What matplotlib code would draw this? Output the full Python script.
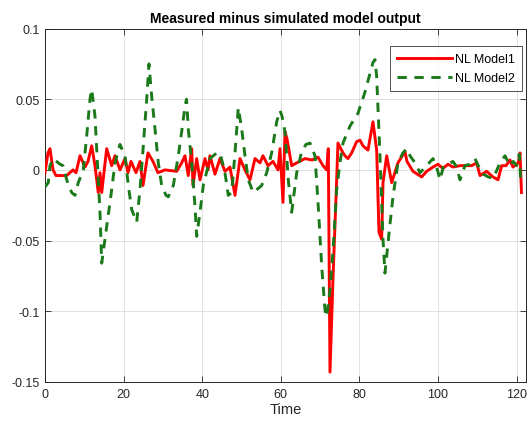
import matplotlib
matplotlib.use("Agg")
import matplotlib.pyplot as plt

plt.rcParams['font.family'] = ['Liberation Sans', 'DejaVu Sans']
plt.rcParams['axes.unicode_minus'] = False

title = "Measured minus simulated model output"
xlabel = "Time"
labels = ["NL Model1", "NL Model2"]
xticks = [0, 20, 40, 60, 80, 100, 120]
yticks = [-0.15, -0.1, -0.05, 0, 0.05, 0.1]
ytick_labels = ["-0.15", "-0.1", "-0.05", "0", "0.05", "0.1"]

t_model1 = [0, 0.76, 1.27, 2.04, 2.8, 3.82, 5.52, 7.12, 7.89, 8.91, 10.18, 10.94, 11.88,
            12.72, 13.56, 13.99, 14.43, 15.7, 16.97, 17.81, 19.08, 20.36, 21.12, 21.88,
            23.16, 24.17, 24.94, 26.21, 27.48, 28.75, 30.53, 33.51, 34.78, 35.62, 36.46,
            37.33, 37.66, 38.6, 39.44, 40.71, 41.48, 41.98, 43.26, 44.53, 45.8, 47.07,
            48.35, 49.62, 50.89, 52.16, 53.44, 54.71, 55.47, 56.74, 58.02, 59.29, 59.8,
            60.56, 61.07, 61.58, 62.77, 64.05, 66.16, 67.94, 69.47, 70.74, 71.68, 72.09,
            72.52, 73.28, 74.22, 74.55, 75.83, 76.34, 77.1, 78.04, 79.31, 80.15, 80.92,
            82.19, 83.46, 84.4, 84.99, 85.67, 86.01, 86.95, 88.22, 89.82, 91.6, 92.11,
            93.64, 95.85, 97.12, 98.73, 100, 101.27, 102.54, 103.82, 105.6, 107.12,
            108.58, 109.85, 110.69, 112.39, 114, 115.27, 116.21, 117.3, 118.32, 119.08,
            120.43, 120.87, 121.25]
y_model1 = [-0.002, 0.012, 0.015, 0.0, -0.004, -0.004, -0.004, 0.0, -0.002, 0.01, 0.002,
            0.006, 0.017, 0.003, -0.016, -0.002, -0.016, 0.015, 0.003, 0.01, 0.0, 0.008,
            -0.002, 0.006, -0.002, 0.006, -0.011, 0.012, 0.006, -0.002, 0.0, -0.001, 0.005,
            0.01, -0.004, 0.015, -0.011, 0.008, -0.007, 0.008, 0.0, 0.01, -0.003, 0.008,
            -0.001, 0.002, -0.018, 0.008, 0.0, -0.007, 0.008, 0.005, 0.01, 0.003, 0.006,
            0.0, 0.015, -0.023, 0.027, 0.022, 0.003, 0.005, 0.008, 0.007, 0.009, 0.003,
            0.0, 0.015, -0.143, -0.077, -0.007, 0.019, 0.012, 0.01, 0.008, 0.012, 0.02,
            0.021, 0.017, 0.014, 0.034, 0.014, -0.044, -0.049, -0.009, 0.01, -0.009, 0.005,
            0.013, 0.006, -0.001, -0.005, -0.001, 0.002, 0.004, 0.001, 0.004, 0.002, 0.003,
            0.003, 0.003, 0.005, -0.004, -0.001, -0.005, -0.007, 0.003, 0.003, 0.007,
            0.002, 0.005, 0.012, -0.016]

t_model2 = [0, 0.84, 1.27, 2.11, 3.82, 4.58, 5.52, 6.79, 7.63, 8.47, 9.75, 10.61, 11.45,
            11.88, 12.72, 13.56, 13.99, 14.43, 15.7, 16.97, 17.81, 19.08, 20.36, 21.2,
            22.06, 23.33, 24.17, 25.01, 25.88, 26.46, 27.15, 27.99, 28.83, 29.69, 30.79,
            31.37, 32.65, 33.92, 34.78, 35.62, 36.01, 36.46, 37.33, 38.17, 38.6, 39.44,
            40.28, 41.98, 43.69, 44.53, 45.8, 46.64, 47.51, 48.35, 49.19, 50.05, 50.89,
            51.73, 53.0, 55.14, 56.41, 57.68, 58.96, 59.8, 60.31, 61.07, 61.91, 62.77,
            64.05, 65.32, 66.41, 67.43, 68.7, 69.54, 70.41, 71.25, 71.68, 72.52, 73.36,
            74.22, 75.06, 75.83, 77.61, 79.64, 81.42, 83.46, 83.97, 84.4, 85.24, 86.01,
            86.51, 87.53, 88.55, 89.82, 91.09, 92.04, 92.88, 94.15, 95.42, 97.12, 98.73,
            99.67, 100.51, 101.35, 102.62, 103.82, 104.76, 105.6, 106.87, 108.14, 109.41,
            110.25, 111.53, 112.8, 114.07, 115.78, 117.05, 118.32, 119.16, 120.02, 120.69,
            121.04]
y_model2 = [-0.012, -0.009, 0.003, 0.008, 0.004, 0.003, -0.007, -0.016, -0.018, -0.009, 0.0,
            0.024, 0.05, 0.057, 0.038, -0.007, -0.03, -0.066, -0.04, -0.014, 0.005, 0.018,
            0.01, -0.011, -0.028, -0.037, -0.014, 0.017, 0.05, 0.075, 0.052, 0.029, 0.005,
            -0.011, -0.018, -0.019, -0.011, 0.01, 0.027, 0.045, 0.05, 0.029, 0.005, -0.026,
            -0.047, -0.03, -0.011, 0.008, 0.012, 0.012, -0.002, -0.018, -0.016, 0.012,
            0.044, 0.029, 0.01, -0.007, -0.016, -0.011, -0.002, 0.012, 0.034, 0.042, 0.038,
            0.027, -0.007, -0.03, -0.002, 0.013, 0.018, 0.019, 0.01, -0.026, -0.068, -0.099,
            -0.104, -0.085, -0.054, -0.014, 0.005, 0.019, 0.031, 0.04, 0.055, 0.076, 0.078,
            0.066, 0.01, -0.049, -0.073, -0.045, -0.019, 0.005, 0.012, 0.015, 0.01, 0.005,
            -0.002, 0.003, 0.008, 0.002, -0.007, 0.002, 0.004, 0.006, 0.002, -0.007, 0.003,
            0.004, 0.008, 0.003, -0.003, -0.005, -0.006, 0.005, 0.01, 0.003, 0.006, 0.003,
            0.011, -0.007]

W, H = 529, 431
fig = plt.figure(figsize=(W / 100, H / 100), dpi=100)
ax = fig.add_axes([45 / W, (H - 383) / H, (526 - 45) / W, (383 - 29.5) / H])

ax.plot(t_model1, y_model1, color=(1.0, 0.0, 0.0), lw=2.1, label=labels[0], zorder=3)
ax.plot(t_model2, y_model2, color=(0.1, 0.48, 0.1), lw=2.1, ls=(0, (3.2, 2.6)),
        label=labels[1], zorder=4)

ax.set_xlim(0, 122.4)
ax.set_ylim(-0.15, 0.1)
ax.set_xticks(xticks)
ax.set_xticklabels([str(v) for v in xticks])
ax.set_yticks(yticks)
ax.set_yticklabels(ytick_labels)

ax.grid(True, color='#dcdcdc', lw=0.6)
ax.set_axisbelow(True)
ax.tick_params(direction='in', top=True, right=True, length=4, width=0.6,
               colors='#262626', labelsize=9, pad=4)
for s in ax.spines.values():
    s.set_color('#262626')
    s.set_linewidth(0.7)

ax.set_title(title, fontsize=10, fontweight='bold', color='black', pad=5)
ax.set_xlabel(xlabel, fontsize=10.5, color='#262626', labelpad=2)

leg = ax.legend(loc='upper right', bbox_to_anchor=(0.992, 0.95), borderaxespad=0.0,
                fontsize=9, frameon=True, fancybox=False,
                edgecolor='#262626', handlelength=4.4,
                borderpad=0.55, labelspacing=0.55, handletextpad=0.3)
leg.get_frame().set_linewidth(0.7)

fig.savefig("out.png", dpi=100)
